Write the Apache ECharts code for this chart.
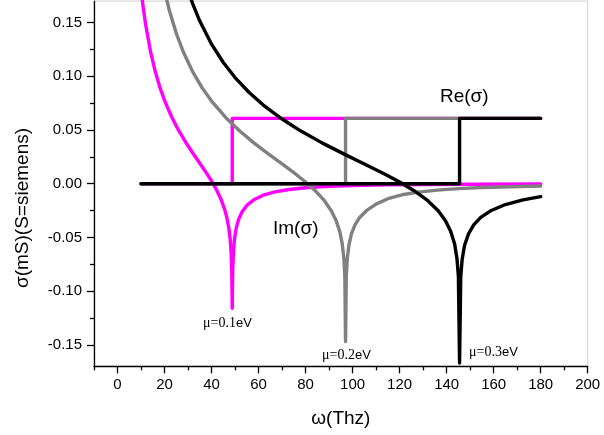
<!DOCTYPE html>
<html>
<head>
<meta charset="utf-8">
<script src="https://cdn.jsdelivr.net/npm/echarts@6/dist/echarts.min.js"></script>
<style>
  html, body { margin: 0; padding: 0; background: #fff; }
  #chart { width: 604px; height: 435px; }
</style>
</head>
<body>
<div id="chart"></div>
<script>
// Frequency span of every trace (THz)
const freqStart = 10;
const freqEnd = 180;
// Interband edge 2μ/h for each chemical potential (THz)
const edgeFreq = [48.8, 97.0, 145.5];
// Plateau of Re(σ) above the edge (mS)
const rePlateau = 0.0608;
// Chemical potentials (eV)
const muValues = ['0.1', '0.2', '0.3'];

// Im(σ) in mS, pairs of [ω (THz), value]
const imMu01 = [
  [10, 0.1809], [11, 0.1628], [12, 0.1477], [14, 0.1235], [16, 0.1049],
  [18, 0.0899], [20, 0.0776], [23, 0.0623], [26, 0.0496], [29, 0.0386],
  [32, 0.0286], [35, 0.0191], [38, 0.0094], [40, 0.0025], [42, -0.0052],
  [44, -0.0144], [45.5, -0.0234], [46.5, -0.0315], [47.3, -0.0406],
  [47.9, -0.0511], [48.3, -0.0629], [48.6, -0.0809], [48.8, -0.116],
  [49.0, -0.0813], [49.3, -0.0639], [49.8, -0.0509], [50.5, -0.0413],
  [51.5, -0.0333], [53, -0.0261], [55, -0.0202], [58, -0.0149], [62, -0.0107],
  [67, -0.0076], [73, -0.0054], [80, -0.0038], [90, -0.0025], [100, -0.0018],
  [115, -0.0011], [130, -0.0007], [150, -0.0005], [180, -0.0003]
];
const imMu02 = [
  [10, 0.371], [15, 0.2443], [18, 0.2013], [20, 0.1796], [22, 0.1617],
  [25, 0.14], [28, 0.1226], [32, 0.1041], [36, 0.0892], [40, 0.0769],
  [46, 0.0617], [52, 0.049], [58, 0.038], [64, 0.028], [70, 0.0184],
  [76, 0.0086], [80, 0.0016], [84, -0.0063], [88, -0.0158], [91, -0.0254],
  [93, -0.0344], [94.5, -0.0442], [95.6, -0.0561], [96.3, -0.0698],
  [96.7, -0.0863], [97, -0.147], [97.3, -0.0866], [97.7, -0.0705],
  [98.4, -0.0575], [99.5, -0.0467], [101, -0.0384], [103, -0.0314],
  [106, -0.0249], [110, -0.019], [115, -0.014], [121, -0.0103], [128, -0.0078],
  [136, -0.006], [145, -0.0046], [155, -0.0036], [167, -0.0028], [180, -0.0022]
];
const imMu03 = [
  [10, 0.56], [20, 0.276], [25, 0.2186], [28, 0.1936], [30, 0.1796],
  [32, 0.1674], [35, 0.1514], [40, 0.1299], [45, 0.1128], [50, 0.0988],
  [56, 0.0849], [62, 0.0732], [70, 0.0602], [78, 0.049], [87, 0.038],
  [96, 0.028], [105, 0.0184], [114, 0.0086], [120, 0.0016], [126, -0.0063],
  [132, -0.0158], [136.5, -0.0254], [139.5, -0.0344], [141.7, -0.0442],
  [143.4, -0.0561], [144.4, -0.0698], [145, -0.0863], [145.5, -0.167],
  [146, -0.0866], [146.6, -0.0705], [147.6, -0.0575], [149.3, -0.0467],
  [151.5, -0.0384], [154.5, -0.0314], [159, -0.0249], [165, -0.0194],
  [172.5, -0.0151], [180, -0.0121]
];

// Axis ticks
const xMajorTicks = [0, 20, 40, 60, 80, 100, 120, 140, 160, 180, 200];
const xMinorTicks = [-10, 10, 30, 50, 70, 90, 110, 130, 150, 170, 190];
const yMajorTicks = [-0.15, -0.10, -0.05, 0, 0.05, 0.10, 0.15];
const yMinorTicks = [-0.125, -0.075, -0.025, 0.025, 0.075, 0.125];

const colors = ['#ff00ff', '#808080', '#000000'];
const sans = '"Liberation Sans", Arial, sans-serif';
const serif = '"Liberation Serif", "Times New Roman", serif';

function reSeriesData(edge) {
  return [[freqStart, 0], [edge, 0], [edge, rePlateau], [freqEnd, rePlateau]];
}

function lineSeries(name, data, color) {
  return {
    name: name,
    type: 'line',
    data: data,
    symbol: 'none',
    clip: true,
    lineStyle: { color: color, width: 3.4, cap: 'round', join: 'round' },
    emphasis: { disabled: true }
  };
}

const imData = [imMu01, imMu02, imMu03];

const series = [
  lineSeries('Re μ=0.1', reSeriesData(edgeFreq[0]), colors[0]),
  lineSeries('Re μ=0.2', reSeriesData(edgeFreq[1]), colors[1]),
  lineSeries('Im μ=0.1', imData[0], colors[0]),
  lineSeries('Im μ=0.2', imData[1], colors[1]),
  lineSeries('Im μ=0.3', imData[2], colors[2]),
  lineSeries('Re μ=0.3', reSeriesData(edgeFreq[2]), colors[2])
];

const chart = echarts.init(document.getElementById('chart'), null, { renderer: 'canvas' });

const muLabelPos = [[203, 323.5], [322, 355], [469, 352.5]];

chart.setOption({
  animation: false,
  backgroundColor: '#fff',
  grid: {
    left: 94, right: 16.3, top: 1.1, bottom: 68.7,
    show: true, borderColor: '#d0d0d0', borderWidth: 1, backgroundColor: 'transparent'
  },
  xAxis: [
    {
      type: 'value', min: -10, max: 200, position: 'bottom',
      axisLine: { show: true, onZero: false, lineStyle: { color: '#000', width: 1.3 } },
      axisTick: { show: true, inside: false, length: 7, customValues: xMajorTicks,
                  lineStyle: { color: '#000', width: 1.3 } },
      axisLabel: { customValues: xMajorTicks, margin: 11, fontSize: 15, color: '#000', fontFamily: sans },
      splitLine: { show: false },
      name: 'ω(Thz)', nameLocation: 'middle', nameGap: 43,
      nameTextStyle: { fontSize: 19, color: '#000', fontFamily: sans }
    },
    {
      type: 'value', min: -10, max: 200, position: 'bottom',
      axisLine: { show: false, onZero: false },
      axisTick: { show: true, inside: false, length: 4, customValues: xMinorTicks,
                  lineStyle: { color: '#000', width: 1.3 } },
      axisLabel: { show: false },
      splitLine: { show: false }
    }
  ],
  yAxis: [
    {
      type: 'value', min: -0.17, max: 0.17, position: 'left',
      axisLine: { show: true, onZero: false, lineStyle: { color: '#000', width: 1.3 } },
      axisTick: { show: true, inside: false, length: 7, customValues: yMajorTicks,
                  lineStyle: { color: '#000', width: 1.3 } },
      axisLabel: { customValues: yMajorTicks, margin: 12, fontSize: 15, color: '#000', fontFamily: sans,
                   formatter: v => v.toFixed(2) },
      splitLine: { show: false }
    },
    {
      type: 'value', min: -0.17, max: 0.17, position: 'left',
      axisLine: { show: false, onZero: false },
      axisTick: { show: true, inside: false, length: 4, customValues: yMinorTicks,
                  lineStyle: { color: '#000', width: 1.3 } },
      axisLabel: { show: false },
      splitLine: { show: false }
    }
  ],
  series: series,
  graphic: [
    {
      type: 'text', x: 23, y: 208, rotation: Math.PI / 2,
      style: { text: 'σ(mS)(S=siemens)', fontSize: 19, fontFamily: sans, fill: '#000',
               align: 'center', verticalAlign: 'middle' }
    },
    {
      type: 'text', x: 440, y: 97,
      style: { text: 'Re(σ)', fontSize: 19, fontFamily: sans, fill: '#000',
               align: 'left', verticalAlign: 'middle' }
    },
    {
      type: 'text', x: 273, y: 229,
      style: { text: 'Im(σ)', fontSize: 19, fontFamily: sans, fill: '#000',
               align: 'left', verticalAlign: 'middle' }
    }
  ].concat(muValues.map((mu, i) => ({
    type: 'text', x: muLabelPos[i][0], y: muLabelPos[i][1],
    style: {
      text: '{a|μ=' + mu + '}{b|eV}',
      align: 'left', verticalAlign: 'middle',
      rich: {
        a: { fontSize: 14, fontFamily: serif, fill: '#000', color: '#000' },
        b: { fontSize: 13, fontFamily: sans, fill: '#000', color: '#000' }
      }
    }
  })))
});
</script>
</body>
</html>
